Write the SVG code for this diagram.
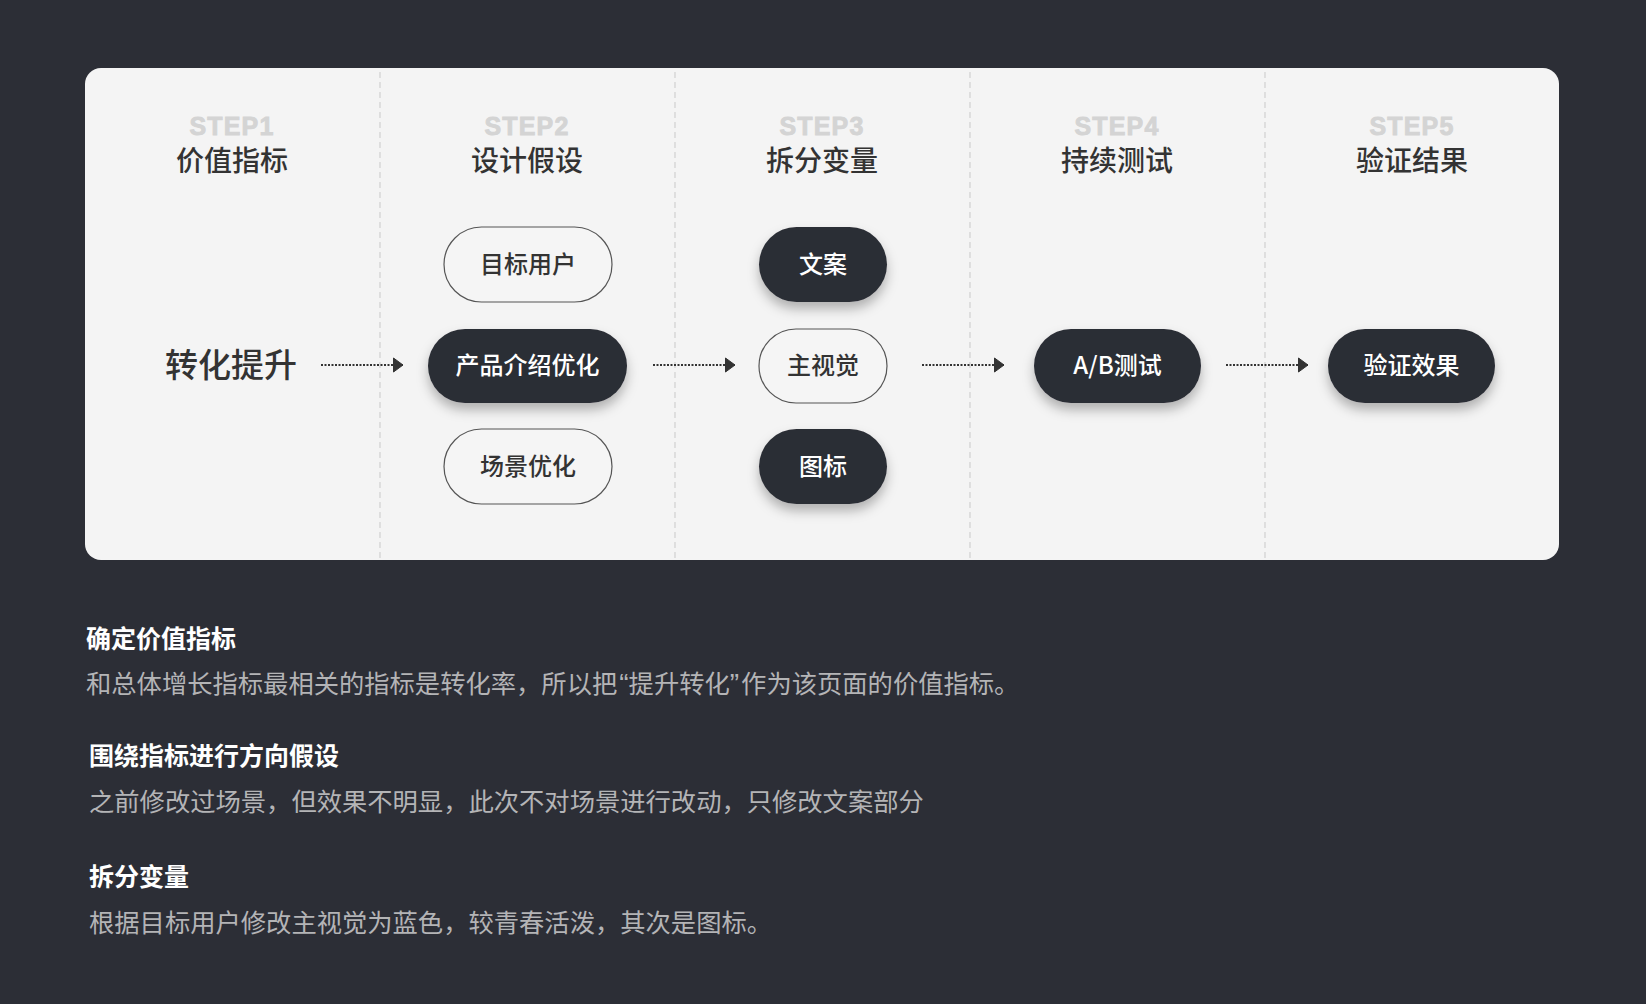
<svg xmlns="http://www.w3.org/2000/svg" width="1646" height="1004" viewBox="0 0 1646 1004">
<defs>
<style>
.step{font-family:"Liberation Sans",Arial,sans-serif;font-weight:bold;font-size:25px;fill:#d4d4d4;stroke:#d4d4d4;stroke-width:0.9;text-anchor:middle;letter-spacing:1.2px}
.title{font-family:"Noto Sans CJK SC",sans-serif;font-weight:500;font-size:28px;fill:#333;text-anchor:middle}
.div{stroke:#c9c9c9;stroke-width:1;stroke-dasharray:6 4}
.dark rect{fill:#2c2e36;filter:url(#sh)}
.dark text{fill:#fff}
.light rect{fill:#f5f5f5;stroke:#555;stroke-width:1.2}
.light text{fill:#333}
.pill text{font-family:"Noto Sans CJK SC",sans-serif;font-weight:500;font-size:24px;text-anchor:middle}
.conn line{stroke:#333;stroke-width:2;stroke-dasharray:2 1.5;marker-end:url(#ah)}
.h{font-family:"Noto Sans CJK SC",sans-serif;font-weight:bold;font-size:25px;fill:#fff}
.p{font-family:"Noto Sans CJK SC",sans-serif;font-size:25.3px;fill:#b4b4b6}
.q{font-family:"Liberation Sans",Arial,sans-serif;font-size:28px}
</style>
<filter id="sh" x="-30%" y="-40%" width="160%" height="200%">
<feDropShadow dx="0" dy="7" stdDeviation="6" flood-color="#000" flood-opacity="0.28"/>
</filter>
<marker id="ah" markerUnits="userSpaceOnUse" markerWidth="12" markerHeight="16" refX="10" refY="8" orient="auto">
<path d="M0.5,1 L10,8 L0.5,15 z" fill="#333" stroke="#333" stroke-width="1" stroke-linejoin="round"/>
</marker>
</defs>
<rect width="1646" height="1004" fill="#2c2e36"/>
<rect x="85" y="68" width="1474" height="492" rx="16" fill="#f4f4f4"/>
<g id="dividers">
<line class="div" x1="380" y1="72" x2="380" y2="560"/>
<line class="div" x1="675" y1="72" x2="675" y2="560"/>
<line class="div" x1="970" y1="72" x2="970" y2="560"/>
<line class="div" x1="1265" y1="72" x2="1265" y2="560"/>
</g>
<g id="headers">
<text class="step" x="232" y="135">STEP1</text>
<text class="title" x="232" y="171">价值指标</text>
<text class="step" x="527" y="135">STEP2</text>
<text class="title" x="527" y="171">设计假设</text>
<text class="step" x="822" y="135">STEP3</text>
<text class="title" x="822" y="171">拆分变量</text>
<text class="step" x="1117" y="135">STEP4</text>
<text class="title" x="1117" y="171">持续测试</text>
<text class="step" x="1412" y="135">STEP5</text>
<text class="title" x="1412" y="171">验证结果</text>
</g>
<g id="n-start"><text x="231" y="377" font-family="Noto Sans CJK SC,sans-serif" font-weight="500" font-size="33" fill="#333" text-anchor="middle">转化提升</text></g>
<g id="n-user" class="pill light"><rect x="444" y="227" width="168" height="75" rx="37.5"/><text x="528" y="273">目标用户</text></g>
<g id="n-product" class="pill dark"><rect x="428" y="329" width="199" height="74" rx="37"/><text x="527.5" y="374">产品介绍优化</text></g>
<g id="n-scene" class="pill light"><rect x="444" y="429" width="168" height="75" rx="37.5"/><text x="528" y="475">场景优化</text></g>
<g id="n-copy" class="pill dark"><rect x="759" y="227" width="128" height="75" rx="37.5"/><text x="823" y="273">文案</text></g>
<g id="n-visual" class="pill light"><rect x="759" y="329" width="128" height="74" rx="37"/><text x="823" y="374">主视觉</text></g>
<g id="n-icon" class="pill dark"><rect x="759" y="429" width="128" height="75" rx="37.5"/><text x="823" y="475">图标</text></g>
<g id="n-ab" class="pill dark"><rect x="1034" y="329" width="167" height="74" rx="37"/><text x="1117.5" y="374">A/B测试</text></g>
<g id="n-verify" class="pill dark"><rect x="1328" y="329" width="167" height="74" rx="37"/><text x="1411.5" y="374">验证效果</text></g>
<g id="connectors" class="conn">
<line x1="321" y1="365" x2="403" y2="365"/>
<line x1="653" y1="365" x2="735" y2="365"/>
<line x1="922" y1="365" x2="1004" y2="365"/>
<line x1="1226" y1="365" x2="1308" y2="365"/>
</g>
<g id="notes">
<text class="h" x="86" y="648">确定价值指标</text>
<text class="p" x="86" y="693">和总体增长指标最相关的指标是转化率，所以把<tspan class="q" dx="2">“</tspan>提升转化<tspan class="q">”</tspan><tspan dx="2">作为该页面的价值指标。</tspan></text>
<text class="h" x="89" y="765">围绕指标进行方向假设</text>
<text class="p" x="89" y="811">之前修改过场景，但效果不明显，此次不对场景进行改动，只修改文案部分</text>
<text class="h" x="89" y="886">拆分变量</text>
<text class="p" x="89" y="932">根据目标用户修改主视觉为蓝色，较青春活泼，其次是图标。</text>
</g>
</svg>
